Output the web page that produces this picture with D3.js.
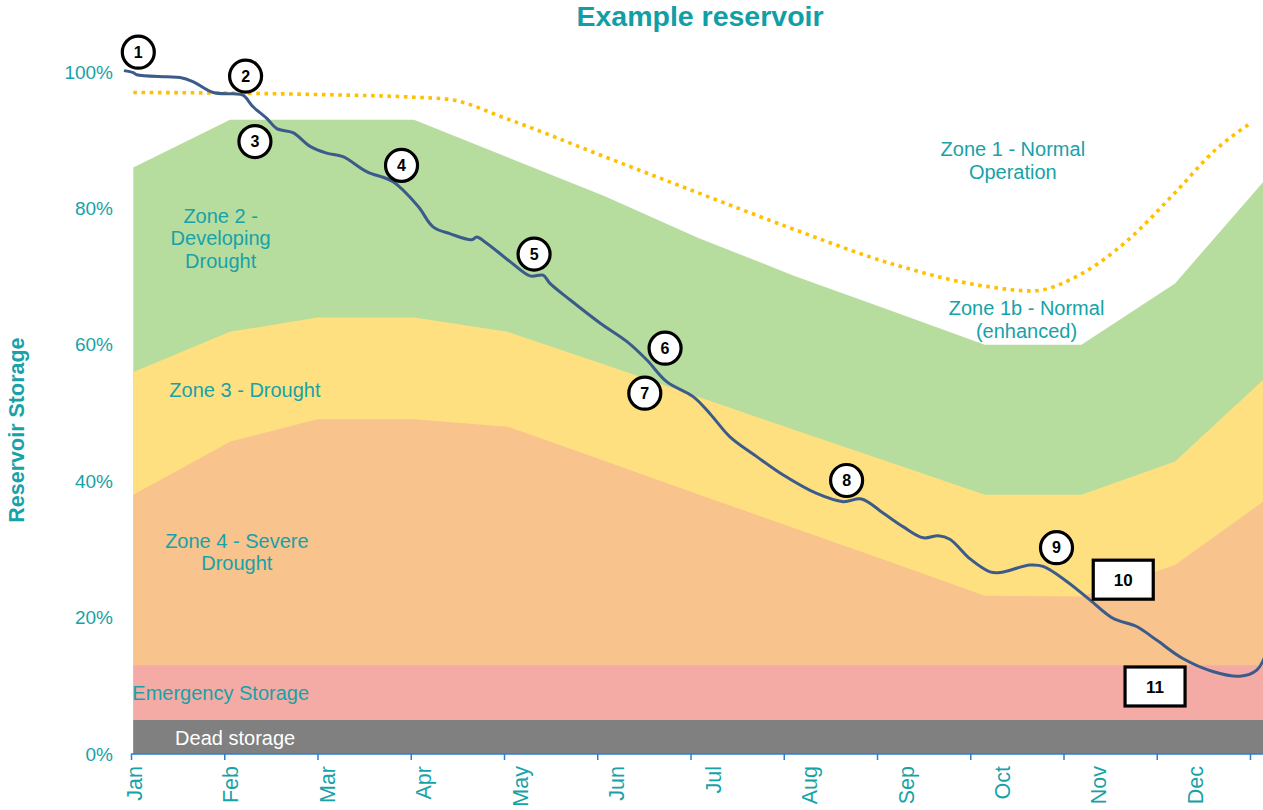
<!DOCTYPE html>
<html>
<head>
<meta charset="utf-8">
<script src="https://cdn.jsdelivr.net/npm/d3@7"></script>
<style>
  html, body { margin: 0; padding: 0; background: #ffffff; }
  svg { display: block; font-family: "Liberation Sans", Arial, sans-serif; }
</style>
</head>
<body>
<svg id="chart" width="1263" height="810"></svg>
<script>
// ---------------- DATA ----------------
const months = ["Jan","Feb","Mar","Apr","May","Jun","Jul","Aug","Sep","Oct","Nov","Dec"];
const yTicks = [0, 20, 40, 60, 80, 100];

// zone boundaries at month starts (day of year) - percent storage
const zoneDays      = [0, 31, 59, 90, 120, 151, 181, 212, 243, 273, 304, 334, 365];
const zone2Top      = [86, 93, 93, 93, 87.5, 81.8, 75.7, 70.1, 65.0, 60, 60, 69, 85.3];
const zone3Top      = [56, 61.9, 64, 64, 61.9, 57.1, 52.4, 47.5, 42.7, 38, 38, 42.9, 56.0];
const zone4Top      = [38, 45.8, 49.1, 49.1, 48, 43.0, 38.1, 33.1, 28.1, 23.2, 23.1, 27.7, 37.9];
const emergencyTop  = [13, 13, 13, 13, 13, 13, 13, 13, 13, 13, 13, 13, 13];
const deadTop       = [5, 5, 5, 5, 5, 5, 5, 5, 5, 5, 5, 5, 5];

// Zone 1 (normal operation) dotted control curve
const targetDays = [0, 31, 59, 90, 101, 120, 151, 181, 212, 243, 273, 288, 304, 319, 334, 347, 358.5];
const targetPct  = [97.0, 96.9, 96.7, 96.3, 96.0, 93.1, 87.6, 82.3, 76.9, 71.9, 68.6, 67.9, 70.4, 75.4, 82.3, 88.6, 92.6];

// reservoir storage trace
const resDays = [-3, 0, 1.1, 10.7, 15, 19.1, 25.6, 32, 35.2, 38.4, 42.8, 46, 51.2, 56.7, 62, 67.2, 74.8, 83.3, 91.3, 96.1, 101.5, 108.5, 110.1, 113.3, 120.8, 127.2, 131.4, 133.6, 140, 149.6, 158.2, 164.6, 171, 179.5, 184.9, 191.3, 199.9, 208.4, 219.1, 227.6, 233.5, 240.5, 246.9, 253.3, 258.1, 261.8, 268.3, 274.7, 277.9, 287.5, 291.7, 299.3, 306.7, 314.1, 321.7, 328.1, 336.5, 346.1, 354.8, 360.2, 363];
const resPct  = [100.2, 99.9, 99.6, 99.3, 99.2, 98.6, 97.0, 96.8, 96.6, 94.9, 93.2, 91.7, 91.1, 89.1, 88.1, 87.6, 85.4, 83.9, 80.3, 77.3, 76.3, 75.4, 75.8, 74.9, 72.2, 70.1, 70.2, 69.0, 66.6, 63.2, 60.5, 57.8, 54.6, 52.4, 49.9, 46.5, 43.6, 40.9, 38.2, 37.0, 37.4, 35.3, 33.3, 31.7, 32.0, 31.5, 28.6, 26.7, 26.6, 27.7, 27.5, 25.3, 22.6, 19.9, 18.7, 16.7, 14.0, 12.1, 11.4, 12.3, 14.5];

// numbered callouts
const calloutLabels = ["1","2","3","4","5","6","7","8","9","10","11"];
const calloutDays   = [1.6, 36, 39, 86, 128.5, 170.5, 164, 228.7, 296, 317.4, 327.6];
const calloutPct    = [102.9, 99.4, 89.8, 86.3, 73.3, 59.5, 52.9, 40.1, 30.25, 25.56, 9.9];
const calloutShape  = ["circle","circle","circle","circle","circle","circle","circle","circle","circle","box","box"];

// zone text labels
const zoneLabelText = [["Zone 1 - Normal","Operation"],["Zone 1b - Normal","(enhanced)"],["Zone 2 -","Developing","Drought"],["Zone 3 - Drought"],["Zone 4 - Severe","Drought"]];
const zoneLabelDays = [282, 286.4, 28, 35.8, 33.2];
const zoneLabelPct  = [88.67, 65.35, 78.9, 53.37, 31.28];

// ---------------- CHART ----------------
const svg = d3.select("#chart");
const W = 1263, H = 810;
const teal = "#17a2a8";

const x = d3.scaleLinear().domain([0, 365]).range([133.3, 1271.7]);
const y = d3.scaleLinear().domain([0, 100]).range([754, 72]);
const tickScale = d3.scaleLinear().domain([0, 12]).range([131, 1250]);
const labelScale = d3.scalePoint().domain(months).range([133.7, 1194.6]);

svg.append("rect").attr("width", W).attr("height", H).attr("fill", "#fff");

const zones = [
  {vals: zone2Top, color: "#b7dd9e"},
  {vals: zone3Top, color: "#ffe081"},
  {vals: zone4Top, color: "#f8c38d"},
  {vals: emergencyTop, color: "#f4aba6"},
  {vals: deadTop, color: "#808080"}
];
const area = d3.area().x(d => x(d[0])).y0(y(0)).y1(d => y(d[1]));
zones.forEach(z => {
  svg.append("path")
    .datum(zoneDays.map((d, i) => [d, z.vals[i]]))
    .attr("d", area)
    .attr("fill", z.color);
});

// target dotted line
const smooth = d3.line().x(d => x(d[0])).y(d => y(d[1])).curve(d3.curveMonotoneX);
svg.append("path")
  .datum(targetDays.map((d, i) => [d, targetPct[i]]))
  .attr("d", smooth)
  .attr("fill", "none")
  .attr("stroke", "#ffc000")
  .attr("stroke-width", 3.6)
  .attr("stroke-dasharray", "3.6,4.6");

// axes
const xAxisG = svg.append("g").attr("transform", `translate(0,${y(0)})`);
xAxisG.append("line")
  .attr("x1", tickScale(0)).attr("x2", W)
  .attr("stroke", "#2a7fd4").attr("stroke-width", 1.5);
xAxisG.call(d3.axisBottom(tickScale).tickValues(d3.range(13)).tickFormat("").tickSize(6).tickSizeOuter(0))
  .call(g => g.select(".domain").remove())
  .call(g => g.selectAll(".tick line").attr("stroke", "#2a7fd4").attr("stroke-width", 1.5));

const labG = svg.append("g").attr("transform", `translate(0,${y(0)})`);
labG.call(d3.axisBottom(labelScale).tickSize(0))
  .call(g => g.select(".domain").remove())
  .call(g => g.selectAll("text")
    .attr("transform", "rotate(-90)")
    .attr("x", -12).attr("y", 0).attr("dy", "0.36em")
    .attr("text-anchor", "end")
    .attr("fill", teal)
    .style("font-size", "21.5px")
    .style("font-family", "'Liberation Sans', Arial, sans-serif"));

const yAxisG = svg.append("g").attr("transform", `translate(${tickScale(0)},0)`);
yAxisG.call(d3.axisLeft(y).tickValues(yTicks).tickFormat(d => d + "%").tickSize(0).tickPadding(18))
  .call(g => g.select(".domain").remove())
  .call(g => g.selectAll("text")
    .attr("fill", teal)
    .style("font-size", "19px")
    .style("font-family", "'Liberation Sans', Arial, sans-serif"));

// reservoir line
const resLine = d3.line().x(d => x(d[0])).y(d => y(d[1])).curve(d3.curveCatmullRom.alpha(0.5));
svg.append("path")
  .datum(resDays.map((d, i) => [d, resPct[i]]))
  .attr("d", resLine)
  .attr("fill", "none")
  .attr("stroke", "#3b5b8b")
  .attr("stroke-width", 3)
  .attr("stroke-linejoin", "round");

// zone labels
zoneLabelText.forEach((lines, i) => {
  const t = svg.append("text")
    .attr("x", x(zoneLabelDays[i]))
    .attr("y", y(zoneLabelPct[i]))
    .attr("text-anchor", "middle")
    .attr("fill", teal)
    .style("font-size", "20px");
  lines.forEach((ln, j) => {
    t.append("tspan").attr("x", x(zoneLabelDays[i])).attr("dy", j === 0 ? "0.35em" : "1.12em").text(ln);
  });
});
svg.append("text")
  .attr("x", x(0) - 1).attr("y", y(8.9)).attr("dy", "0.35em")
  .attr("fill", teal).style("font-size", "20px")
  .text("Emergency Storage");
svg.append("text")
  .attr("x", x(13.4)).attr("y", y(2.3)).attr("dy", "0.35em")
  .attr("fill", "#ffffff").style("font-size", "20px")
  .text("Dead storage");

// callouts
calloutLabels.forEach((lab, i) => {
  const cx = x(calloutDays[i]), cy = y(calloutPct[i]);
  const g = svg.append("g").attr("transform", `translate(${cx},${cy})`);
  if (calloutShape[i] === "circle") {
    g.append("circle").attr("r", 16).attr("fill", "#fff").attr("stroke", "#000").attr("stroke-width", 3.2);
    g.append("text").attr("text-anchor", "middle").attr("dy", "0.36em")
      .style("font-size", "16px").style("font-weight", "bold").attr("fill", "#000").text(lab);
  } else {
    g.append("rect").attr("x", -30).attr("y", -19.5).attr("width", 60).attr("height", 39)
      .attr("fill", "#fff").attr("stroke", "#000").attr("stroke-width", 3.2);
    g.append("text").attr("text-anchor", "middle").attr("dy", "0.36em")
      .style("font-size", "17px").style("font-weight", "bold").attr("fill", "#000").text(lab);
  }
});

// title & axis title
svg.append("text")
  .attr("x", 700).attr("y", 26)
  .attr("text-anchor", "middle")
  .attr("fill", "#119ea5")
  .style("font-size", "28.5px").style("font-weight", "bold")
  .text("Example reservoir");

svg.append("text")
  .attr("transform", `translate(24,${y(47.5)}) rotate(-90)`)
  .attr("text-anchor", "middle")
  .attr("fill", teal)
  .style("font-size", "21.5px").style("font-weight", "bold")
  .text("Reservoir Storage");
</script>
</body>
</html>
